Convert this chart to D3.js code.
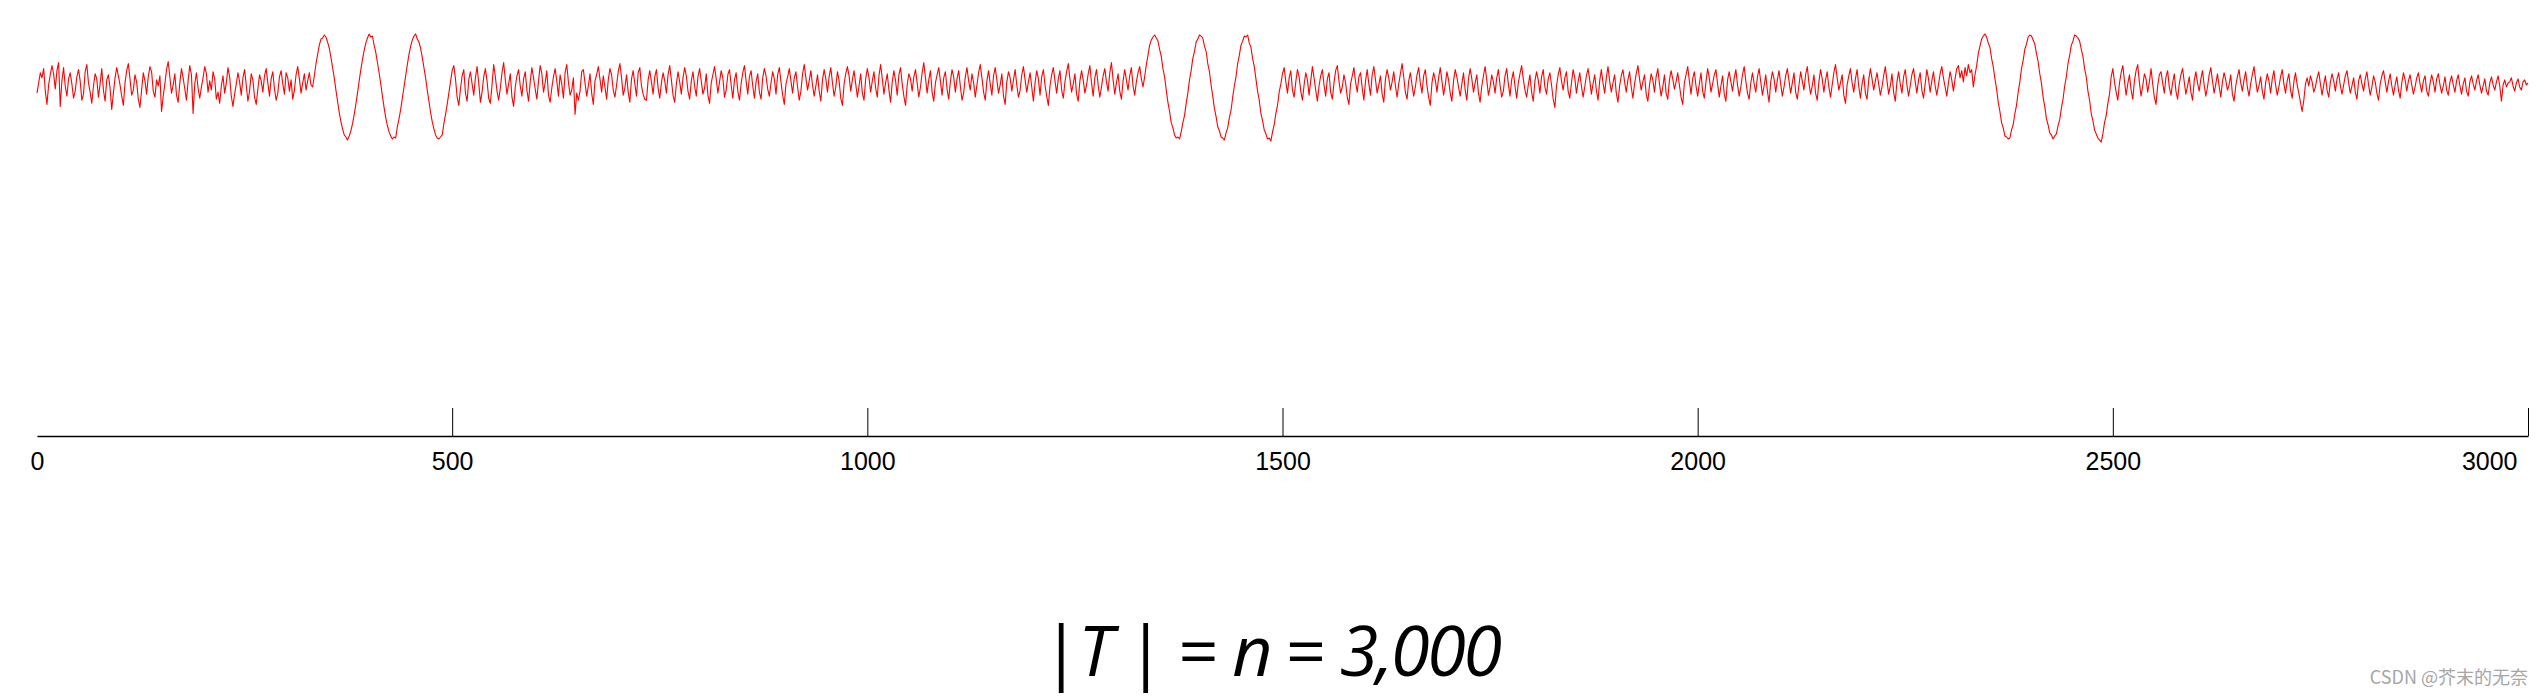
<!DOCTYPE html>
<html>
<head>
<meta charset="utf-8">
<script src="https://cdn.jsdelivr.net/npm/d3@7"></script>
<style>
  html, body { margin: 0; padding: 0; background: #ffffff; }
  svg { display: block; }
</style>
</head>
<body>
<svg id="chart" width="2544" height="698"></svg>
<script>
const sampleStep = 2;
const tickValues = [0, 500, 1000, 1500, 2000, 2500, 3000];
const tickLabels = ["0", "500", "1000", "1500", "2000", "2500", "3000"];
const titleParts = [
  { text: "|", italic: false },
  { text: "T", italic: true },
  { text: " | = ", italic: false },
  { text: "n", italic: true },
  { text: " = ", italic: false },
  { text: "3,000", italic: true }
];
const watermark = "CSDN @芥末的无奈";

// segment start times
const segmentStarts = [0, 332, 498, 1332, 1498, 2332, 2498];

const noise1 = [
  -6,4,14,9,18,-4,-17,2,12,21,13,-2,16,24,-19,6,19,1,-9,8,
  14,3,-11,-4,10,17,6,-13,-7,15,22,4,-5,-16,1,13,8,-10,3,18,
  -3,-14,7,12,-1,-22,-6,9,19,11,2,-9,-18,4,16,23,8,-8,-3,12,
  5,-12,-20,-3,14,6,-7,10,20,15,-4,-10,7,1,11,-24,-9,3,17,25,
  10,-6,2,13,-8,-15,4,18,9,-2,-13,6,21,12,-26,3,14,-1,-11,0,
  9,20,13,-5,6,-3,15,8,-12,-5,-16,1,11,-6,4,19,10,-9,-19,-7,
  3,14,5,-8,9,17,2,-14,-4,13,7,-10,-17,-2,12,6,-5,11,18,4,
  -9,8,15,-2,-13,-6,10,16,3,-7,14,9,-4,7,-12,-3,12,20,8,-6,
  4,13,-3,6,14,2
];

const burst1 = [
  0,11,23,32,41,47,48,51,49,44,38,29,19,9,-3,-14,-25,-34,-41,-47,-49,-52,-48,-43,-36,-27,-17,-6,
  6,17,27,36,43,48,52,49,50,41,34,24,14,3,-9,-20,-30,-38,-44,-48,-51,-49,-50,-39,-31,-22,-11,
  0,11,22,32,40,46,50,52,47,44,38,29,19,9,-3,-14,-25,-34,-41,-47,-50,-51,-49,-47,-36,-27,-17,-6
];

const noise2 = [
  5,16,21,8,-10,-18,-2,11,17,-6,-14,7,15,3,-8,9,20,4,-15,-5,
  10,18,6,-11,-16,2,22,10,-4,-13,-1,14,24,7,-7,3,13,-10,-19,0,
  11,17,1,-9,8,15,-3,-14,5,19,9,-2,-12,6,21,13,-5,4,16,-8,
  -15,-1,10,18,6,-9,12,3,-11,14,22,5,-8,-3,9,-27,-6,-13,-4,15,
  17,4,-9,1,13,-6,-17,6,12,20,8,-5,11,0,-12,7,18,12,-3,-10,
  2,15,23,9,-8,-1,12,-5,-15,8,16,3,-9,14,19,1,-7,-12,-13,7,
  16,5,-7,10,17,-1,-11,4,14,6,-6,12,21,7,-8,-15,3,15,5,-7,
  9,19,11,-4,-12,6,15,1,-9,10,18,6,-7,-1,13,-8,-16,4,12,20,
  8,-6,5,16,9,-10,-3,12,17,2,-11,7,14,-4,-13,3,14,21,6,-7,
  10,16,1,-11,5,13,-5,-12,9,18,11,-2,-9,4,15,8,-7,12,19,5,
  -8,-17,3,10,18,6,-6,9,15,0,-13,-4,13,22,9,-3,6,16,2,-9,
  1,12,-4,-14,7,17,8,-5,10,19,4,-9,0,15,6,-11,-18,3,13,20,
  11,-4,7,16,3,-10,1,13,-6,-13,8,18,9,-5,6,15,-1,-10,11,22,
  8,-7,4,13,-3,-15,5,16,6,-8,12,19,3,-9,-18,2,13,8,-4,10,
  17,4,-10,0,14,24,9,-6,7,16,-5,-14,4,12,19,6,-8,9,15,-2,
  -12,5,17,10,-5,8,16,1,-13,-6,10,19,6,-3,13,4,-10,2,14,22,
  9,-5,-13,6,16,3,-8,11,19,7,-6,2,13,-9,-17,5,15,9,-4,7,
  17,2,-10,-3,12,20,7,-5,5,14,0,-14,4,16,8,-8,10,17,2,-9,
  -18,1,12,19,6,-6,8,16,-3,-11,5,15,23,8,-5,3,13,-7,-14,6,
  16,7,-6,2,13,21,4,-9,9,17,2,-10,0,11,18,5,-4,14,24,7,
  -7,4,13,-4,-12,6,17,7,-3,11,19,1,-8,5,14,20,8
];

const burst2 = [
  0,10,22,31,41,46,49,51,48,45,37,30,18,10,-3,-15,-24,-35,-40,-47,-50,-49,-51,-44,-35,-28,-16,-6,
  7,16,28,35,44,47,51,50,48,40,35,23,15,2,-9,-21,-29,-39,-43,-49,-50,-52,-45,-40,-30,-23,-10,
  1,10,23,31,41,45,50,49,51,43,39,28,20,8,-4,-13,-26,-33,-42,-46,-51,-50,-53,-44,-37,-26,-18,-5
];

const noise3 = [
  3,13,19,5,-6,9,16,-3,-10,5,17,10,-4,-13,2,14,7,-8,6,20,
  9,-3,-14,1,11,17,2,-9,8,14,-5,-12,4,16,21,6,-6,0,12,4,
  -10,-17,3,11,19,5,-5,10,14,-1,-13,6,17,3,-8,12,20,7,-6,2,
  11,-7,-15,8,17,9,-3,5,15,1,-10,3,13,23,10,-5,-12,6,14,2,
  -9,0,12,19,4,-6,11,17,1,-10,-18,4,14,7,-5,9,19,6,-8,2,
  15,7,-6,-14,6,17,10,0,-9,3,14,-3,-13,8,18,8,-5,4,12,-6,
  -15,1,11,20,7,-8,0,12,5,-6,9,17,2,-10,-4,11,18,3,-9,7,
  15,1,-11,4,13,21,8,-3,-10,2,12,-5,-14,6,15,7,-6,10,17,0,
  -7,8,14,2,-12,-20,1,12,19,6,-3,9,15,-4,-11,4,17,9,-6,5,
  14,1,-10,0,11,18,7,-7,3,12,-3,-13,6,17,4,-6,9,20,6,-5,
  4,12,-6,-15,1,11,17,5,-5,7,15,0,-11,3,13,21,8,-3,5,12,
  -7,-14,2,13,7,-5,10,18,3,-9,0,12,-6,-12,7,16,8,-2,5,14,
  2,-10,-17,4,12,20,6,-7,8,15,1,-9,3,14,-4,-11,5,18,9,-5,
  3,12,17,3,-10,1,11,-7,-14,7,15,5,-4,9,17,2,-9,0,12,20,
  6,-6,-12,4,14,3,-5,10,18,5,-8,1,12,-4,-15,5,15,8,-5,7,
  16,3,-9,0,11,18,6,-6,4,14,-5,-12,2,15,6,-3,12,20,4,-7,
  1,12,-6,-13,5,17,8,-5,7,15,0,-10,2,14,22,9,-3,4,12,-8,
  -16,2,11,18,4,-5,8,17,1,-11,3,12,-6,-12,7,18,8,-3,6,14,
  3,-8,0,11,20,6,-7,1,13,-5,-14,5,15,3,-6,10,17,2,-9,1,
  12,18,5,-6,7,14,-3,-11,3,17,8,-5,6,15,1,-8,2,13,20,9,
  0,-9,4,15,7,-4,8,18,21,9,16,5,19,11,22,14,17
];

const burst3 = [
  0,12,21,33,40,47,50,52,49,43,39,28,20,8,-2,-15,-24,-35,-40,-48,-49,-51,-50,-42,-37,-26,-18,-5,
  5,18,26,37,42,49,51,50,46,42,33,25,13,4,-10,-19,-31,-37,-45,-47,-51,-48,-46,-38,-32,-21,-12,
  1,10,23,31,41,45,51,50,48,45,37,30,18,10,-4,-13,-26,-33,-42,-46,-50,-52,-54,-46,-35,-28,-16,-7
];

const noise4 = [
  10,18,5,-5,-13,4,14,21,6,-8,3,12,-3,-12,6,16,22,4,-9,1,
  13,8,-5,5,18,3,-10,-17,1,12,15,4,-6,10,16,0,-8,4,13,-4,
  -12,3,12,18,5,-7,1,10,-5,-13,6,15,4,-4,8,16,2,-9,0,12,
  19,6,-6,3,13,1,-10,5,14,7,-3,2,12,-7,-14,1,10,17,4,-4,
  7,15,0,-9,3,12,20,7,-5,1,10,-4,-12,4,13,6,-6,8,16,2,
  -8,0,10,17,3,-6,6,13,-3,-11,5,14,2,-6,-15,-24,-13,3,9,1,
  11,5,-5,0,9,15,3,-8,2,11,-3,-10,5,13,6,-4,8,14,1,-7,
  2,11,16,4,-6,1,9,-5,-12,6,12,3,-4,8,15,2,-8,0,11,5,
  -6,-13,3,11,16,5,-5,5,13,1,-8,2,10,-3,-11,4,14,7,-4,6,
  12,2,-7,0,9,14,3,-5,6,11,-4,-9,3,12,5,-5,8,13,2,-6,
  1,10,-3,-8,5,11,2,-5,6,12,1,-7,3,9,-4,-9,5,11,3,-3,
  6,12,2,-6,1,8,-4,-8,4,10,2,-3,5,11,1,-14,2,7,0,4,
  5,9,1,-4,4,8,0,-3,5,7,2,4
];

const segmentValues = [noise1, burst1, noise2, burst2, noise3, burst3, noise4];

// ---------------- BUILD POINTS ----------------
const tMax = 3000;
const points = [];
segmentValues.forEach((vals, i) => {
  const start = segmentStarts[i];
  const end = i + 1 < segmentStarts.length ? segmentStarts[i + 1] : tMax + 1;
  vals.forEach((v, j) => {
    const t = start + j * sampleStep;
    if (t < end && t <= tMax) points.push({ t, v });
  });
});

// ---------------- DRAW ----------------
const svg = d3.select("#chart");
svg.append("rect").attr("width", 2544).attr("height", 698).attr("fill", "#ffffff");

const x = d3.scaleLinear().domain([0, 3000]).range([37, 2528]);
const y = d3.scaleLinear().domain([-50, 50]).range([138, 36]);

svg.append("path")
  .datum(points)
  .attr("fill", "none")
  .attr("stroke", "#ff0000")
  .attr("stroke-width", 1.1)
  .attr("stroke-linejoin", "round")
  .attr("d", d3.line().x(d => x(d.t)).y(d => y(d.v)));

// axis
const axis = d3.axisBottom(x)
  .tickValues(tickValues)
  .tickFormat((d, i) => tickLabels[i])
  .tickSizeInner(-28)
  .tickSizeOuter(0)
  .tickPadding(16);

const gAxis = svg.append("g")
  .attr("transform", "translate(0,436)")
  .call(axis);

gAxis.select(".domain").attr("stroke", "#000").attr("stroke-width", 1.5);
gAxis.selectAll(".tick line").attr("stroke", "#000").attr("stroke-width", 1);
gAxis.selectAll(".tick").filter(d => d === 0).select("line").remove();
gAxis.selectAll(".tick text")
  .attr("fill", "#000")
  .attr("font-family", "'Liberation Sans', Arial, Helvetica, sans-serif")
  .attr("font-size", 25);
gAxis.selectAll(".tick").filter(d => d === 3000).select("text")
  .attr("text-anchor", "end")
  .attr("x", -11);

// title
const title = svg.append("text")
  .attr("x", 1272)
  .attr("y", 676)
  .attr("text-anchor", "middle")
  .attr("font-family", "'Open Sans', 'Noto Sans', sans-serif")
  .attr("font-size", 70)
  .attr("fill", "#000");
titleParts.forEach(p => {
  title.append("tspan")
    .attr("font-style", p.italic ? "italic" : "normal")
    .text(p.text);
});
// fit the title to the measured width of the reference
const tw = title.node().getComputedTextLength();
if (tw > 0) {
  title.attr("textLength", 460).attr("lengthAdjust", "spacing");
}

// watermark
svg.append("text")
  .attr("x", 2528)
  .attr("y", 684)
  .attr("text-anchor", "end")
  .attr("font-family", "'Noto Sans CJK SC', 'Liberation Sans', sans-serif")
  .attr("font-size", 18)
  .attr("fill", "#a6a6a6")
  .text(watermark);
</script>
</body>
</html>
